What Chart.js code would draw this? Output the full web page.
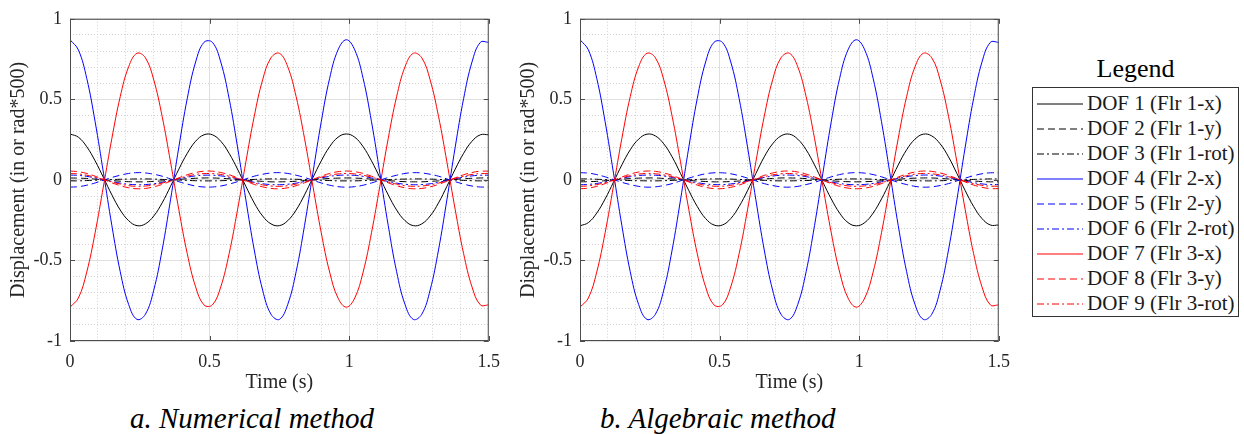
<!DOCTYPE html>
<html>
<head>
<meta charset="utf-8">
<script src="https://cdn.jsdelivr.net/npm/chart.js@4.4.1/dist/chart.umd.min.js"></script>
<style>
  body { margin: 0; width: 1244px; height: 434px; background: #fff; position: relative; overflow: hidden;
         font-family: "Liberation Serif", "Times New Roman", serif; color: #262626; }
  .pane { position: absolute; top: 0; width: 510px; height: 400px; }
  .cap { position: absolute; top: 400px; font-style: italic; font-size: 29px; line-height: 36px; color: #000; white-space: nowrap; }
  #legend-title { position: absolute; left: 1032px; top: 54px; width: 207px; text-align: center; font-size: 26px; line-height: 30px; color: #000; }
  #legend { position: absolute; left: 1032px; top: 87px; width: 207px; height: 230px; box-sizing: border-box;
            border: 1px solid #333; padding: 3px 0 0 4px; }
  .row { height: 25px; display: flex; align-items: center; font-size: 21px; color: #1a1a1a; white-space: nowrap; }
  .row svg { margin-right: 4px; flex: none; }
</style>
</head>
<body>
<div class="pane" style="left:0"><canvas id="chartA" width="510" height="400"></canvas></div>
<div class="pane" style="left:510px"><canvas id="chartB" width="510" height="400"></canvas></div>
<div id="legend-title">Legend</div>
<div id="legend"></div>
<div class="cap" style="left:130px">a. Numerical method</div>
<div class="cap" style="left:600px">b. Algebraic method</div>

<script>
// time axis (s)
const time = [0, 0.03, 0.06, 0.09, 0.12, 0.15, 0.18, 0.21, 0.24, 0.27, 0.3, 0.33, 0.36, 0.39, 0.42, 0.45, 0.48,
  0.51, 0.54, 0.57, 0.6, 0.63, 0.66, 0.69, 0.72, 0.75, 0.78, 0.81, 0.84, 0.87, 0.9, 0.93, 0.96, 0.99,
  1.02, 1.05, 1.08, 1.11, 1.14, 1.17, 1.2, 1.23, 1.26, 1.29, 1.32, 1.35, 1.38, 1.41, 1.44, 1.47, 1.5];

const labels = ["DOF 1 (Flr 1-x)", "DOF 2 (Flr 1-y)", "DOF 3 (Flr 1-rot)", "DOF 4 (Flr 2-x)", "DOF 5 (Flr 2-y)",
  "DOF 6 (Flr 2-rot)", "DOF 7 (Flr 3-x)", "DOF 8 (Flr 3-y)", "DOF 9 (Flr 3-rot)"];

// a. numerical method
const dof1A = [0.285, 0.265, 0.206, 0.118, 0.014, -0.093, -0.187, -0.253, -0.284, -0.273, -0.224, -0.143, -0.040, 0.067, 0.165, 0.240, 0.280,
  0.280, 0.240, 0.165, 0.067, -0.040, -0.143, -0.224, -0.273, -0.284, -0.253, -0.187, -0.093, 0.014, 0.118, 0.206, 0.265, 0.285,
  0.265, 0.206, 0.118, 0.014, -0.093, -0.187, -0.253, -0.284, -0.273, -0.224, -0.143, -0.040, 0.067, 0.165, 0.240, 0.280, 0.280];
const dof2A = [0.012, 0.011, 0.009, 0.005, 0.001, -0.004, -0.008, -0.011, -0.012, -0.012, -0.009, -0.006, -0.002, 0.003, 0.007, 0.010, 0.012,
  0.012, 0.010, 0.007, 0.003, -0.002, -0.006, -0.009, -0.012, -0.012, -0.011, -0.008, -0.004, 0.001, 0.005, 0.009, 0.011, 0.012,
  0.011, 0.009, 0.005, 0.001, -0.004, -0.008, -0.011, -0.012, -0.012, -0.009, -0.006, -0.002, 0.003, 0.007, 0.010, 0.012, 0.012];
const dof3A = [-0.006, -0.006, -0.004, -0.002, 0, 0.002, 0.004, 0.005, 0.006, 0.006, 0.005, 0.003, 0.001, -0.001, -0.003, -0.005, -0.006,
  -0.006, -0.005, -0.003, -0.001, 0.001, 0.003, 0.005, 0.006, 0.006, 0.005, 0.004, 0.002, 0, -0.002, -0.004, -0.006, -0.006,
  -0.006, -0.004, -0.002, 0, 0.002, 0.004, 0.005, 0.006, 0.006, 0.005, 0.003, 0.001, -0.001, -0.003, -0.005, -0.006, -0.006];
const dof4 = [0.870, 0.807, 0.630, 0.361, 0.042, -0.284, -0.570, -0.773, -0.866, -0.834, -0.684, -0.435, -0.124, 0.205, 0.505, 0.732, 0.854,
  0.854, 0.732, 0.505, 0.205, -0.124, -0.435, -0.684, -0.834, -0.866, -0.773, -0.570, -0.284, 0.042, 0.361, 0.630, 0.807, 0.870,
  0.807, 0.630, 0.361, 0.042, -0.284, -0.570, -0.773, -0.866, -0.834, -0.684, -0.435, -0.124, 0.205, 0.505, 0.732, 0.854, 0.854];
const dof5A = [-0.045, -0.042, -0.033, -0.019, -0.002, 0.015, 0.029, 0.040, 0.045, 0.043, 0.035, 0.023, 0.006, -0.011, -0.026, -0.038, -0.044,
  -0.044, -0.038, -0.026, -0.011, 0.006, 0.023, 0.035, 0.043, 0.045, 0.040, 0.029, 0.015, -0.002, -0.019, -0.033, -0.042, -0.045,
  -0.042, -0.033, -0.019, -0.002, 0.015, 0.029, 0.040, 0.045, 0.043, 0.035, 0.023, 0.006, -0.011, -0.026, -0.038, -0.044, -0.044];
const dof6A = [0.030, 0.028, 0.022, 0.012, 0.001, -0.010, -0.020, -0.027, -0.030, -0.029, -0.024, -0.015, -0.004, 0.007, 0.017, 0.025, 0.029,
  0.029, 0.025, 0.017, 0.007, -0.004, -0.015, -0.024, -0.029, -0.030, -0.027, -0.020, -0.010, 0.001, 0.012, 0.022, 0.028, 0.030,
  0.028, 0.022, 0.012, 0.001, -0.010, -0.020, -0.027, -0.030, -0.029, -0.024, -0.015, -0.004, 0.007, 0.017, 0.025, 0.029, 0.029];
const dof7 = [-0.790, -0.733, -0.572, -0.328, -0.038, 0.258, 0.517, 0.702, 0.786, 0.758, 0.621, 0.395, 0.112, -0.186, -0.458, -0.664, -0.776,
  -0.776, -0.664, -0.458, -0.186, 0.112, 0.395, 0.621, 0.758, 0.786, 0.702, 0.517, 0.258, -0.038, -0.328, -0.572, -0.733, -0.790,
  -0.733, -0.572, -0.328, -0.038, 0.258, 0.517, 0.702, 0.786, 0.758, 0.621, 0.395, 0.112, -0.186, -0.458, -0.664, -0.776, -0.776];
const dof8A = [0.055, 0.051, 0.040, 0.023, 0.003, -0.018, -0.036, -0.049, -0.055, -0.053, -0.043, -0.028, -0.008, 0.013, 0.032, 0.046, 0.054,
  0.054, 0.046, 0.032, 0.013, -0.008, -0.028, -0.043, -0.053, -0.055, -0.049, -0.036, -0.018, 0.003, 0.023, 0.040, 0.051, 0.055,
  0.051, 0.040, 0.023, 0.003, -0.018, -0.036, -0.049, -0.055, -0.053, -0.043, -0.028, -0.008, 0.013, 0.032, 0.046, 0.054, 0.054];
const dof9A = [0.040, 0.037, 0.029, 0.017, 0.002, -0.013, -0.026, -0.036, -0.040, -0.038, -0.031, -0.020, -0.006, 0.009, 0.023, 0.034, 0.039,
  0.039, 0.034, 0.023, 0.009, -0.006, -0.020, -0.031, -0.038, -0.040, -0.036, -0.026, -0.013, 0.002, 0.017, 0.029, 0.037, 0.040,
  0.037, 0.029, 0.017, 0.002, -0.013, -0.026, -0.036, -0.040, -0.038, -0.031, -0.020, -0.006, 0.009, 0.023, 0.034, 0.039, 0.039];

// b. algebraic method
const dof1B = [-0.285, -0.265, -0.206, -0.118, -0.014, 0.093, 0.187, 0.253, 0.284, 0.273, 0.224, 0.143, 0.040, -0.067, -0.165, -0.240, -0.280,
  -0.280, -0.240, -0.165, -0.067, 0.040, 0.143, 0.224, 0.273, 0.284, 0.253, 0.187, 0.093, -0.014, -0.118, -0.206, -0.265, -0.285,
  -0.265, -0.206, -0.118, -0.014, 0.093, 0.187, 0.253, 0.284, 0.273, 0.224, 0.143, 0.040, -0.067, -0.165, -0.240, -0.280, -0.280];
const dof2B = [-0.012, -0.011, -0.009, -0.005, -0.001, 0.004, 0.008, 0.011, 0.012, 0.012, 0.009, 0.006, 0.002, -0.003, -0.007, -0.010, -0.012,
  -0.012, -0.010, -0.007, -0.003, 0.002, 0.006, 0.009, 0.012, 0.012, 0.011, 0.008, 0.004, -0.001, -0.005, -0.009, -0.011, -0.012,
  -0.011, -0.009, -0.005, -0.001, 0.004, 0.008, 0.011, 0.012, 0.012, 0.009, 0.006, 0.002, -0.003, -0.007, -0.010, -0.012, -0.012];
const dof3B = [0.006, 0.006, 0.004, 0.002, 0, -0.002, -0.004, -0.005, -0.006, -0.006, -0.005, -0.003, -0.001, 0.001, 0.003, 0.005, 0.006,
  0.006, 0.005, 0.003, 0.001, -0.001, -0.003, -0.005, -0.006, -0.006, -0.005, -0.004, -0.002, 0, 0.002, 0.004, 0.006, 0.006,
  0.006, 0.004, 0.002, 0, -0.002, -0.004, -0.005, -0.006, -0.006, -0.005, -0.003, -0.001, 0.001, 0.003, 0.005, 0.006, 0.006];
const dof5B = [0.045, 0.042, 0.033, 0.019, 0.002, -0.015, -0.029, -0.040, -0.045, -0.043, -0.035, -0.023, -0.006, 0.011, 0.026, 0.038, 0.044,
  0.044, 0.038, 0.026, 0.011, -0.006, -0.023, -0.035, -0.043, -0.045, -0.040, -0.029, -0.015, 0.002, 0.019, 0.033, 0.042, 0.045,
  0.042, 0.033, 0.019, 0.002, -0.015, -0.029, -0.040, -0.045, -0.043, -0.035, -0.023, -0.006, 0.011, 0.026, 0.038, 0.044, 0.044];
const dof6B = [-0.030, -0.028, -0.022, -0.012, -0.001, 0.010, 0.020, 0.027, 0.030, 0.029, 0.024, 0.015, 0.004, -0.007, -0.017, -0.025, -0.029,
  -0.029, -0.025, -0.017, -0.007, 0.004, 0.015, 0.024, 0.029, 0.030, 0.027, 0.020, 0.010, -0.001, -0.012, -0.022, -0.028, -0.030,
  -0.028, -0.022, -0.012, -0.001, 0.010, 0.020, 0.027, 0.030, 0.029, 0.024, 0.015, 0.004, -0.007, -0.017, -0.025, -0.029, -0.029];
const dof8B = [-0.055, -0.051, -0.040, -0.023, -0.003, 0.018, 0.036, 0.049, 0.055, 0.053, 0.043, 0.028, 0.008, -0.013, -0.032, -0.046, -0.054,
  -0.054, -0.046, -0.032, -0.013, 0.008, 0.028, 0.043, 0.053, 0.055, 0.049, 0.036, 0.018, -0.003, -0.023, -0.040, -0.051, -0.055,
  -0.051, -0.040, -0.023, -0.003, 0.018, 0.036, 0.049, 0.055, 0.053, 0.043, 0.028, 0.008, -0.013, -0.032, -0.046, -0.054, -0.054];
const dof9B = [-0.040, -0.037, -0.029, -0.017, -0.002, 0.013, 0.026, 0.036, 0.040, 0.038, 0.031, 0.020, 0.006, -0.009, -0.023, -0.034, -0.039,
  -0.039, -0.034, -0.023, -0.009, 0.006, 0.020, 0.031, 0.038, 0.040, 0.036, 0.026, 0.013, -0.002, -0.017, -0.029, -0.037, -0.040,
  -0.037, -0.029, -0.017, -0.002, 0.013, 0.026, 0.036, 0.040, 0.038, 0.031, 0.020, 0.006, -0.009, -0.023, -0.034, -0.039, -0.039];

const seriesA = [dof1A, dof2A, dof3A, dof4, dof5A, dof6A, dof7, dof8A, dof9A];
const seriesB = [dof1B, dof2B, dof3B, dof4, dof5B, dof6B, dof7, dof8B, dof9B];

// line styles (matlab-like)
const DASH = [7, 4];
const DASHDOT = [7, 3, 2, 3];
const colors = ["#000000", "#000000", "#000000", "#0000ff", "#0000ff", "#0000ff", "#ff0000", "#ff0000", "#ff0000"];
const dashes = [[], DASH, DASHDOT, [], DASH, DASHDOT, [], DASH, DASHDOT];

const FONT = "'Liberation Serif', 'Times New Roman', serif";
const TXT = "#262626";

function fmt(v) {
  return String(Math.round(v * 10) / 10);
}

function isMajor(v) {
  return Math.abs(v * 2 - Math.round(v * 2)) < 1e-6;
}

// axes box + inward ticks
const boxPlugin = {
  id: "box",
  afterDraw(chart) {
    const { ctx, chartArea: a, scales } = chart;
    ctx.save();
    ctx.strokeStyle = "#4d4d4d";
    ctx.lineWidth = 1;
    ctx.strokeRect(a.left + 0.5, a.top + 0.5, a.right - a.left - 1, a.bottom - a.top - 1);
    ctx.beginPath();
    scales.x.ticks.forEach(t => {
      const px = Math.round(scales.x.getPixelForValue(t.value)) + 0.5;
      ctx.moveTo(px, a.bottom); ctx.lineTo(px, a.bottom - 5);
      ctx.moveTo(px, a.top); ctx.lineTo(px, a.top + 5);
    });
    scales.y.ticks.forEach(t => {
      const py = Math.round(scales.y.getPixelForValue(t.value)) + 0.5;
      ctx.moveTo(a.left, py); ctx.lineTo(a.left + 5, py);
      ctx.moveTo(a.right, py); ctx.lineTo(a.right - 5, py);
    });
    ctx.stroke();
    ctx.restore();
  }
};

function makeChart(id, series) {
  const datasets = series.map((d, i) => ({
    label: labels[i],
    data: d,
    borderColor: colors[i],
    borderDash: dashes[i],
    borderWidth: 1,
    pointRadius: 0,
    tension: 0.4,
    fill: false,
    order: -i
  }));

  return new Chart(document.getElementById(id), {
    type: "line",
    data: { labels: time, datasets: datasets },
    options: {
      responsive: false,
      animation: false,
      devicePixelRatio: 1,
      layout: { padding: { top: 13, right: 16, bottom: 0, left: 0 } },
      plugins: { legend: { display: false }, tooltip: { enabled: false } },
      scales: {
        x: {
          type: "linear", min: 0, max: 1.5,
          afterFit: s => { s.height = 59; },
          ticks: { stepSize: 0.5, autoSkip: false, maxRotation: 0, padding: 10, color: TXT,
                   font: { family: FONT, size: 18 }, callback: fmt },
          grid: { color: "#dfdfdf", drawTicks: false },
          border: { display: false },
          title: { display: true, text: "Time (s)", color: TXT, font: { family: FONT, size: 20 },
                   padding: { top: 0, bottom: 5 } }
        },
        xMinor: {
          type: "linear", position: "bottom", min: 0, max: 1.5,
          afterFit: s => { s.height = 0; },
          ticks: { display: false, stepSize: 0.1, autoSkip: false },
          grid: { drawTicks: false, color: c => isMajor(c.tick.value) ? "rgba(0,0,0,0)" : "#d2d2d2" },
          border: { display: false, dash: [1, 2] }
        },
        y: {
          type: "linear", min: -1, max: 1,
          afterFit: s => { s.width = 70; },
          ticks: { stepSize: 0.5, autoSkip: false, padding: 8, color: TXT,
                   font: { family: FONT, size: 18 }, callback: fmt },
          grid: { color: "#dfdfdf", drawTicks: false },
          border: { display: false },
          title: { display: true, text: "Displacement (in or rad*500)", color: TXT,
                   font: { family: FONT, size: 20 }, padding: { top: 7, bottom: 0 } }
        },
        yMinor: {
          type: "linear", position: "left", min: -1, max: 1,
          afterFit: s => { s.width = 0; },
          ticks: { display: false, stepSize: 0.1, autoSkip: false },
          grid: { drawTicks: false, color: c => isMajor(c.tick.value) ? "rgba(0,0,0,0)" : "#d2d2d2" },
          border: { display: false, dash: [1, 2] }
        }
      }
    },
    plugins: [boxPlugin]
  });
}

makeChart("chartA", seriesA);
makeChart("chartB", seriesB);

// legend box
const legendEl = document.getElementById("legend");
labels.forEach((name, i) => {
  const row = document.createElement("div");
  row.className = "row";
  const dash = dashes[i].length ? dashes[i].join(" ") : "none";
  row.innerHTML = '<svg width="46" height="4"><line x1="0" y1="2" x2="46" y2="2" stroke="' + colors[i] +
    '" stroke-width="1" stroke-dasharray="' + dash + '"/></svg><span>' + name + "</span>";
  legendEl.appendChild(row);
});
</script>
</body>
</html>
